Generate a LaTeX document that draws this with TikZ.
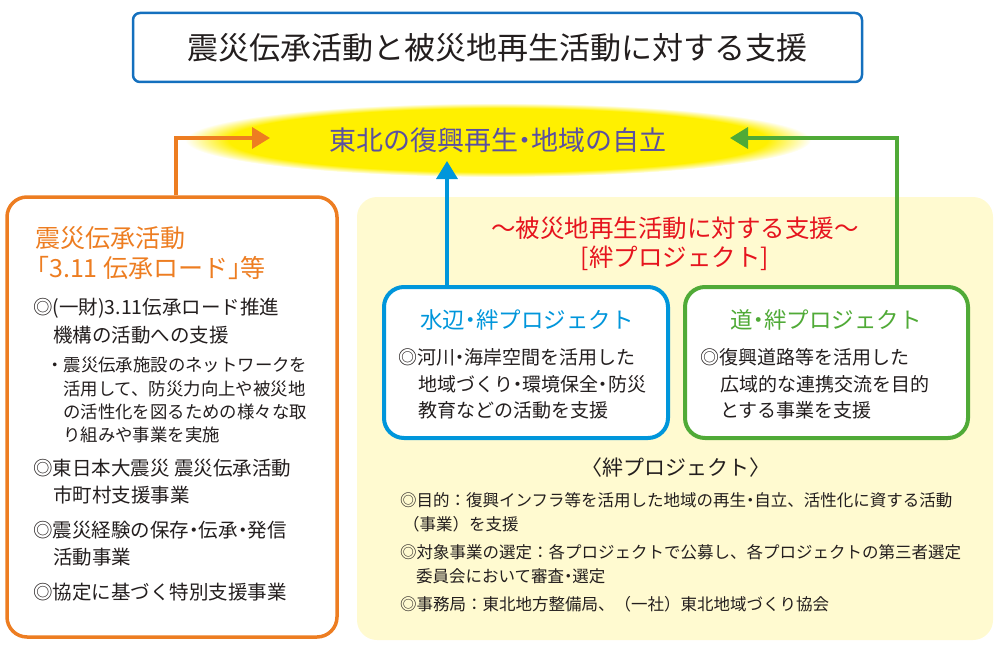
\documentclass[tikz,border=0pt]{standalone}
\usepackage{fontspec}
\setmainfont{Noto Sans CJK JP}
\usetikzlibrary{arrows.meta,shapes.geometric,calc}
\definecolor{orng}{RGB}{237,125,33}
\definecolor{blu}{RGB}{0,150,219}
\definecolor{tblu}{RGB}{20,112,190}
\definecolor{grn}{RGB}{80,170,55}
\definecolor{rd}{RGB}{230,20,30}
\definecolor{purp}{RGB}{90,80,160}
\definecolor{glowY}{RGB}{255,240,0}
\definecolor{paleY}{RGB}{255,250,208}
\definecolor{ink}{RGB}{35,30,30}
\pgfdeclareradialshading{glow}{\pgfpoint{0bp}{0bp}}{color(0bp)=(glowY); color(21.5bp)=(glowY); color(25bp)=(white); color(50bp)=(white)}
\newcommand{\nk}{\hspace{-.25em}・\hspace{-.25em}}
\tikzset{
  tx/.style={inner sep=0pt, anchor=west, text=ink},
  lhead/.style={tx, text=orng, font=\fontsize{25}{30}\selectfont},
  lbody/.style={tx, font=\fontsize{19.5}{24}\selectfont},
  lsub/.style={tx, font=\fontsize{17.4}{21}\selectfont},
  pbody/.style={tx, font=\fontsize{19}{23}\selectfont},
  bbody/.style={tx, font=\fontsize{16.5}{20}\selectfont},
  arr/.style={line width=3.5pt, -{Triangle[length=18pt,width=21pt]}},
  panel/.style={draw, line width=4pt, rounded corners=20pt, fill=white, minimum height=151pt, inner sep=0pt},
}
\begin{document}
\begin{tikzpicture}[x=1pt,y=-1pt]
\useasboundingbox (0,0) rectangle (1000,650);
% title
\node[draw=tblu, line width=2.5pt, rounded corners=7pt, minimum width=729pt, minimum height=69pt, fill=white, inner sep=0pt, text=ink, font=\fontsize{31}{36}\selectfont] (title) at (497.5,47.5) {震災伝承活動と被災地再生活動に対する支援};
% goal ellipse
\node[ellipse, shading=glow, minimum width=626pt, minimum height=74pt, inner sep=0pt, text=purp, font=\fontsize{27}{32}\selectfont] (goal) at (498,140) {東北の復興再生\nk 地域の自立};
% yellow background
\node[fill=paleY, rounded corners=20pt, minimum width=636pt, minimum height=443pt, inner sep=0pt] (ybg) at (675,418.5) {};
% left box
\node[draw=orng, line width=3.5pt, rounded corners=20pt, minimum width=330pt, minimum height=440pt, fill=white, inner sep=0pt] (lbox) at (172,417) {};
% panels
\node[panel, draw=blu, minimum width=284pt] (bbox) at (526,362.5) {};
\node[panel, draw=grn, minimum width=283pt] (gbox) at (826.5,362.5) {};
% arrow targets
\coordinate (otip) at (270,138);
\coordinate (gtip) at (730,138);
\coordinate (btip) at (447,161);
\draw[orng, arr] ($(lbox.north)+(4,0)$) |- (otip);
\draw[grn, arr] ($(gbox.north)+(70.5,0)$) |- (gtip);
\draw[blu, arr] ($(bbox.north)+(-79,0)$) -- (btip);
% left box text
\node[lhead] (lh1) at (35,238) {震災伝承活動};
\node[lhead] (lh2) at (24,268) {「3.11 伝承ロード」\hspace{-.5em}等};
\node[lbody] (l1a) at (33,308) {◎(一財)3.11伝承ロード推進};
\node[lbody] (l1b) at (53,335) {機構の活動への支援};
\node[lsub] (s1) at (46,365) {・震災伝承施設のネットワークを};
\node[lsub] (s2) at (63,389) {活用して、防災力向上や被災地};
\node[lsub] (s3) at (63,412) {の活性化を図るための様々な取};
\node[lsub] (s4) at (63,435) {り組みや事業を実施};
\node[lbody] (l2a) at (33,468) {◎東日本大震災 震災伝承活動};
\node[lbody] (l2b) at (53,495) {市町村支援事業};
\node[lbody] (l3a) at (33,530) {◎震災経験の保存\nk 伝承\nk 発信};
\node[lbody] (l3b) at (53,557) {活動事業};
\node[lbody] (l4) at (33,592) {◎協定に基づく特別支援事業};
% red heading
\node[inner sep=0pt, text=rd, font=\fontsize{24.5}{30}\selectfont] (rt1) at (675,228) {～被災地再生活動に対する支援～};
\node[inner sep=0pt, text=rd, font=\fontsize{24.5}{30}\selectfont] (rt2) at (675,258) {[絆プロジェクト]};
% blue panel text
\node[inner sep=0pt, text=blu, font=\fontsize{22.5}{27}\selectfont] (bt) at (527,320) {水辺\nk 絆プロジェクト};
\node[pbody] (b1) at (398,357) {◎河川\nk 海岸空間を活用した};
\node[pbody] (b2) at (418,384) {地域づくり\nk 環境保全\nk 防災};
\node[pbody] (b3) at (418,410) {教育などの活動を支援};
% green panel text
\node[inner sep=0pt, text=grn, font=\fontsize{22.5}{27}\selectfont] (gt) at (826,320) {道\nk 絆プロジェクト};
\node[pbody] (g1) at (700,357) {◎復興道路等を活用した};
\node[pbody] (g2) at (720,384) {広域的な連携交流を目的};
\node[pbody] (g3) at (720,410) {とする事業を支援};
% bottom notes
\node[inner sep=0pt, text=ink, font=\fontsize{21}{25}\selectfont] (kt) at (676,468) {〈絆プロジェクト〉};
\node[bbody] (n1) at (400,500) {◎目的：復興インフラ等を活用した地域の再生\nk 自立、活性化に資する活動};
\node[bbody] (n1b) at (403,524) {（事業）を支援};
\node[bbody] (n2) at (400,552) {◎対象事業の選定：各プロジェクトで公募し、各プロジェクトの第三者選定};
\node[bbody] (n2b) at (416,576) {委員会において審査\nk 選定};
\node[bbody] (n3) at (400,604) {◎事務局：東北地方整備局、（一社）東北地域づくり協会};
\end{tikzpicture}
\end{document}
